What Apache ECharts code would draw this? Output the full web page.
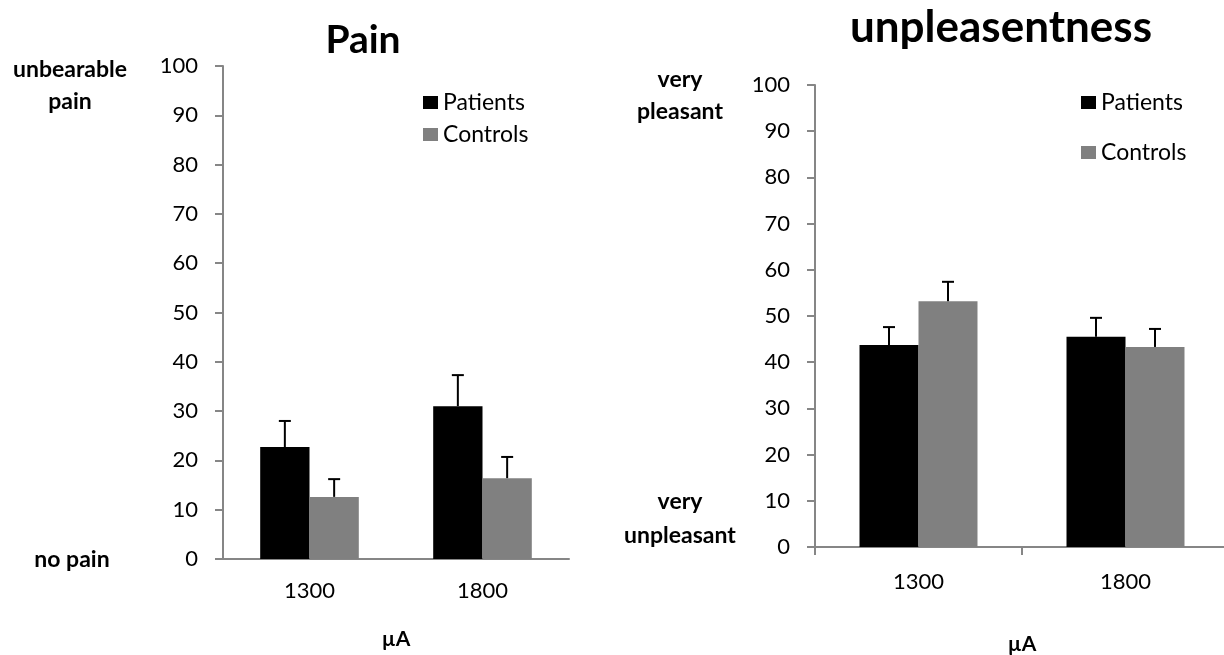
<!DOCTYPE html>
<html>
<head>
<meta charset="utf-8">
<script src="https://cdn.jsdelivr.net/npm/echarts@6/dist/echarts.min.js"></script>
<style>
html,body{margin:0;padding:0;background:#fff;}
#chart{width:1224px;height:655px;}
</style>
</head>
<body>
<div id="chart"></div>
<script>
// ---- data ----
var categories = ['1300', '1800'];
var yTicks = [0, 10, 20, 30, 40, 50, 60, 70, 80, 90, 100];
var seriesNames = ['Patients', 'Controls'];
// Pain ratings (left panel)
var painPatients = [22.7, 31.0];
var painPatientsSE = [5.3, 6.3];
var painControls = [12.6, 16.4];
var painControlsSE = [3.6, 4.3];
// Unpleasantness ratings (right panel)
var unplPatients = [43.7, 45.5];
var unplPatientsSE = [3.9, 4.1];
var unplControls = [53.2, 43.3];
var unplControlsSE = [4.2, 3.9];

var FONT = 'Lato';
var AXIS_COLOR = '#868686';
var GAP = 0.43;

function errData(vals, se) {
  return vals.map(function (v, i) { return [i, v, v + se[i]]; });
}
function errRender(sign) {
  return function (params, api) {
    var band = api.size([1, 0])[0];
    var off = sign * band * (1 - GAP) / 4;
    var b = api.coord([api.value(0), api.value(1)]);
    var t = api.coord([api.value(0), api.value(2)]);
    var x = b[0] + off;
    var cap = 6;
    var st = { stroke: '#000', lineWidth: 2 };
    return {
      type: 'group',
      children: [
        { type: 'line', shape: { x1: x, y1: b[1], x2: x, y2: t[1] }, style: st },
        { type: 'line', shape: { x1: x - cap, y1: t[1], x2: x + cap, y2: t[1] }, style: st }
      ]
    };
  };
}

function yAxisCfg(gi) {
  return {
    type: 'value', gridIndex: gi, min: 0, max: 100, interval: 10,
    axisLine: { show: true, lineStyle: { color: AXIS_COLOR, width: 2 } },
    axisTick: { show: true, length: 8, lineStyle: { color: AXIS_COLOR, width: 2 } },
    splitLine: { show: false },
    axisLabel: { margin: 25, color: '#000', fontSize: 22, fontFamily: FONT,
      formatter: function (v) { return yTicks.indexOf(v) >= 0 ? String(v) : ''; } }
  };
}

var option = {
  animation: false,
  backgroundColor: '#fff',
  textStyle: { fontFamily: FONT },
  grid: [
    { left: 223, top: 66, width: 346, height: 493, outerBoundsMode: 'none', containLabel: false },
    { left: 815, top: 85, width: 414, height: 462, outerBoundsMode: 'none', containLabel: false }
  ],
  xAxis: [
    { type: 'category', gridIndex: 0, data: categories,
      axisLine: { lineStyle: { color: AXIS_COLOR, width: 2 } },
      axisTick: { show: false },
      axisLabel: { margin: 21, color: '#000', fontSize: 22, fontFamily: FONT },
      name: 'µA', nameLocation: 'middle', nameGap: 70,
      nameTextStyle: { fontSize: 21, fontWeight: 'bold', color: '#000', fontFamily: FONT } },
    { type: 'category', gridIndex: 1, data: categories,
      axisLine: { lineStyle: { color: AXIS_COLOR, width: 2 } },
      axisTick: { show: true, length: 8, lineStyle: { color: AXIS_COLOR, width: 2 } },
      axisLabel: { margin: 24, color: '#000', fontSize: 22, fontFamily: FONT },
      name: 'µA', nameLocation: 'middle', nameGap: 87,
      nameTextStyle: { fontSize: 21, fontWeight: 'bold', color: '#000', fontFamily: FONT } }
  ],
  yAxis: [yAxisCfg(0), yAxisCfg(1)],
  legend: [
    { left: 418, top: 86, orient: 'vertical', itemWidth: 15, itemHeight: 13, itemGap: 9,
      icon: 'rect', data: seriesNames,
      textStyle: { fontSize: 23, lineHeight: 22, color: '#000', fontFamily: FONT } },
    { left: 1076, top: 86, orient: 'vertical', itemWidth: 15, itemHeight: 13, itemGap: 27,
      icon: 'rect', data: seriesNames,
      textStyle: { fontSize: 23, lineHeight: 22, color: '#000', fontFamily: FONT } }
  ],
  series: [
    { name: 'Patients', type: 'bar', xAxisIndex: 0, yAxisIndex: 0, data: painPatients,
      itemStyle: { color: '#000' }, barGap: '0%', barCategoryGap: '43%' },
    { name: 'Controls', type: 'bar', xAxisIndex: 0, yAxisIndex: 0, data: painControls,
      itemStyle: { color: '#808080' }, barGap: '0%', barCategoryGap: '43%' },
    { name: 'Patients', type: 'bar', xAxisIndex: 1, yAxisIndex: 1, data: unplPatients,
      itemStyle: { color: '#000' }, barGap: '0%', barCategoryGap: '43%' },
    { name: 'Controls', type: 'bar', xAxisIndex: 1, yAxisIndex: 1, data: unplControls,
      itemStyle: { color: '#808080' }, barGap: '0%', barCategoryGap: '43%' },
    { type: 'custom', xAxisIndex: 0, yAxisIndex: 0, renderItem: errRender(-1),
      data: errData(painPatients, painPatientsSE), z: 5, silent: true },
    { type: 'custom', xAxisIndex: 0, yAxisIndex: 0, renderItem: errRender(1),
      data: errData(painControls, painControlsSE), z: 5, silent: true },
    { type: 'custom', xAxisIndex: 1, yAxisIndex: 1, renderItem: errRender(-1),
      data: errData(unplPatients, unplPatientsSE), z: 5, silent: true },
    { type: 'custom', xAxisIndex: 1, yAxisIndex: 1, renderItem: errRender(1),
      data: errData(unplControls, unplControlsSE), z: 5, silent: true }
  ],
  graphic: [
    { type: 'text', x: 363, y: 40, style: { text: 'Pain', fontSize: 39, fontWeight: 'bold', fontFamily: FONT, fill: '#000', textAlign: 'center', textVerticalAlign: 'middle' } },
    { type: 'text', x: 1001, y: 28, style: { text: 'unpleasentness', fontSize: 44, fontWeight: 'bold', fontFamily: FONT, fill: '#000', textAlign: 'center', textVerticalAlign: 'middle' } },
    { type: 'text', x: 70, y: 70, style: { text: 'unbearable', fontSize: 23, fontWeight: 'bold', fontFamily: FONT, fill: '#000', textAlign: 'center', textVerticalAlign: 'middle' } },
    { type: 'text', x: 70, y: 102, style: { text: 'pain', fontSize: 23, fontWeight: 'bold', fontFamily: FONT, fill: '#000', textAlign: 'center', textVerticalAlign: 'middle' } },
    { type: 'text', x: 72, y: 560, style: { text: 'no pain', fontSize: 23, fontWeight: 'bold', fontFamily: FONT, fill: '#000', textAlign: 'center', textVerticalAlign: 'middle' } },
    { type: 'text', x: 680, y: 80, style: { text: 'very', fontSize: 23, fontWeight: 'bold', fontFamily: FONT, fill: '#000', textAlign: 'center', textVerticalAlign: 'middle' } },
    { type: 'text', x: 680, y: 112, style: { text: 'pleasant', fontSize: 23, fontWeight: 'bold', fontFamily: FONT, fill: '#000', textAlign: 'center', textVerticalAlign: 'middle' } },
    { type: 'text', x: 680, y: 502, style: { text: 'very', fontSize: 23, fontWeight: 'bold', fontFamily: FONT, fill: '#000', textAlign: 'center', textVerticalAlign: 'middle' } },
    { type: 'text', x: 680, y: 536, style: { text: 'unpleasant', fontSize: 23, fontWeight: 'bold', fontFamily: FONT, fill: '#000', textAlign: 'center', textVerticalAlign: 'middle' } }
  ]
};

var chart = echarts.init(document.getElementById('chart'), null, { renderer: 'canvas' });
chart.setOption(option);
</script>
</body>
</html>
